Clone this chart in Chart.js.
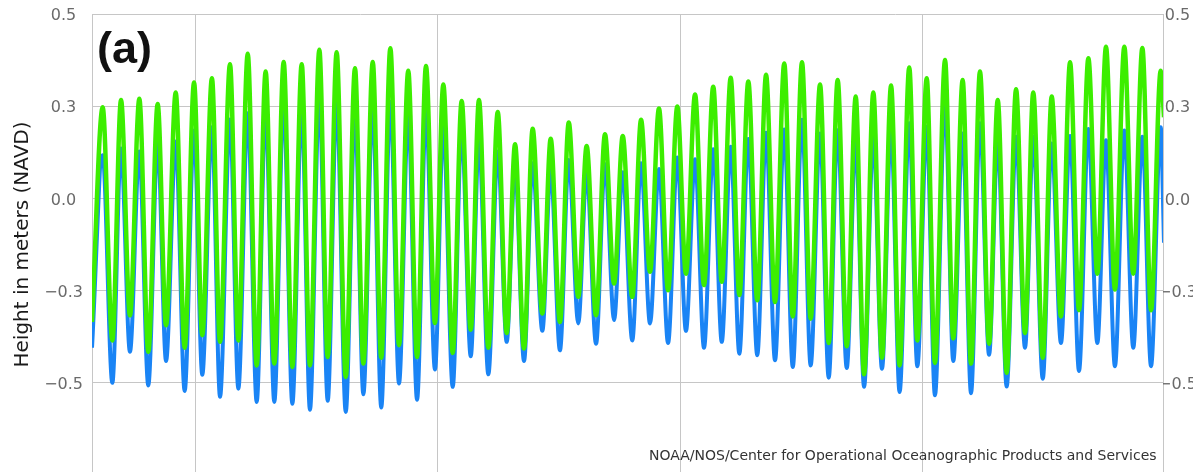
<!DOCTYPE html>
<html>
<head>
<meta charset="utf-8">
<script src="https://cdn.jsdelivr.net/npm/chart.js@4"></script>
<style>
  html, body { margin: 0; padding: 0; background: #fff; overflow: hidden; }
  .wrap { position: relative; width: 1193px; height: 476px; }
  .panel { position: absolute; left: 97px; top: 25px; font: bold 45px 'Liberation Sans', Arial, sans-serif; line-height: 1; color: #111; }
  .credit { position: absolute; left: 649px; top: 448px; font: 14px 'DejaVu Sans', sans-serif; line-height: 1; color: #333; white-space: nowrap; }
</style>
</head>
<body>
<div class="wrap">
  <canvas id="tideChart"></canvas>
  <div class="panel">(a)</div>
  <div class="credit">NOAA/NOS/Center for Operational Oceanographic Products and Services</div>
</div>
<script>
// hours from start of record; peaks and troughs
const hours = [
  0, 7.4, 14.1, 20.1, 26.3, 32.8, 39.0, 45.5, 51.3, 58.0, 64.2, 70.7, 76.4, 83.1, 88.7, 95.6,
  101.4, 107.9, 114.1, 120.3, 126.3, 132.8, 138.8, 145.3, 151.0, 157.5, 163.3, 169.5, 175.8, 182.2,
  188.0, 194.5, 200.4, 206.7, 212.7, 219.1, 225.2, 231.4, 237.6, 243.4, 249.9, 256.1, 262.4, 268.1,
  274.6, 281.1, 287.3, 293.1, 299.3, 305.3, 312.0, 317.8, 324.2, 330.3, 336.9, 342.7, 349.2, 355.4,
  361.7, 367.7, 374.3, 380.4, 386.6, 392.8, 399.1, 405.5, 411.5, 417.8, 424.0, 430.4, 436.3, 442.5,
  448.5, 454.7, 460.9, 467.0, 473.2, 479.6, 485.5, 491.9, 497.9, 504.4, 510.4, 516.6, 522.9, 529.1,
  534.9, 541.3, 547.3, 553.6, 559.5, 566.2, 571.8, 578.3, 584.0, 591.0, 596.7, 603.2, 609.0, 615.2,
  621.5, 627.5, 633.7, 640.2, 646.4, 652.1, 658.7, 664.9, 671.3, 677.6, 683.8, 690.3, 696.5, 702.5,
  708.7, 715.2, 721.4, 727.7, 733.7, 740.4, 742.7
];

const predicted = [
  -0.335, 0.247, -0.385, 0.267, -0.317, 0.270, -0.416, 0.256, -0.344, 0.287, -0.405, 0.314, -0.371, 0.326, -0.389, 0.364,
  -0.385, 0.392, -0.453, 0.344, -0.448, 0.370, -0.457, 0.364, -0.453, 0.403, -0.430, 0.396, -0.484, 0.353,
  -0.448, 0.370, -0.432, 0.407, -0.398, 0.346, -0.430, 0.359, -0.338, 0.309, -0.419, 0.264, -0.356, 0.267,
  -0.405, 0.234, -0.365, 0.147, -0.407, 0.189, -0.312, 0.162, -0.335, 0.206, -0.267, 0.142, -0.317, 0.174,
  -0.231, 0.169, -0.267, 0.213, -0.199, 0.244, -0.249, 0.249, -0.204, 0.282, -0.235, 0.303, -0.226, 0.327,
  -0.262, 0.317, -0.276, 0.335, -0.281, 0.366, -0.320, 0.369, -0.326, 0.309, -0.392, 0.321, -0.401, 0.276,
  -0.477, 0.287, -0.432, 0.306, -0.453, 0.355, -0.385, 0.326, -0.446, 0.375, -0.380, 0.321, -0.448, 0.344,
  -0.394, 0.267, -0.473, 0.296, -0.365, 0.287, -0.432, 0.276, -0.320, 0.369, -0.303, 0.380, -0.204, 0.411,
  -0.247, 0.411, -0.204, 0.408, -0.303, 0.346, 0.22
];

const observed = [
  -0.405, 0.117, -0.500, 0.135, -0.416, 0.127, -0.507, 0.151, -0.441, 0.154, -0.522, 0.184, -0.478, 0.193, -0.538, 0.214,
  -0.516, 0.231, -0.552, 0.240, -0.552, 0.262, -0.557, 0.245, -0.573, 0.276, -0.549, 0.262, -0.579, 0.232,
  -0.531, 0.249, -0.567, 0.262, -0.502, 0.226, -0.546, 0.235, -0.464, 0.196, -0.511, 0.185, -0.428, 0.158,
  -0.477, 0.127, -0.389, 0.086, -0.441, 0.095, -0.359, 0.077, -0.412, 0.104, -0.339, 0.072, -0.394, 0.093,
  -0.330, 0.071, -0.385, 0.095, -0.339, 0.080, -0.392, 0.111, -0.359, 0.106, -0.405, 0.133, -0.389, 0.140,
  -0.421, 0.161, -0.425, 0.178, -0.439, 0.187, -0.457, 0.213, -0.453, 0.176, -0.486, 0.185, -0.460, 0.158,
  -0.511, 0.167, -0.462, 0.185, -0.525, 0.204, -0.455, 0.194, -0.534, 0.262, -0.441, 0.176, -0.528, 0.204,
  -0.424, 0.158, -0.510, 0.167, -0.405, 0.167, -0.489, 0.149, -0.392, 0.169, -0.468, 0.188, -0.392, 0.158,
  -0.455, 0.184, -0.405, 0.167, -0.455, 0.193, -0.12
];

const weekLines = [71.5, 239.5, 407.5, 575.5];
const tickValues = [0.5, 0.25, 0, -0.25, -0.5];
const tickLabels = ['0.5', '0.3', '0.0', '\u22120.3', '\u22120.5'];

const gridColor = '#c6c6c6';
const tickFont = { family: "'DejaVu Sans', sans-serif", size: 16 };
const yTicks = {
  font: tickFont, color: '#6a6a6a', crossAlign: 'center', labelOffset: 2,
  callback: v => tickLabels[tickValues.indexOf(v)]
};

// fixed box sizes so the plot area sits where it does in the original
function sizeAxis(width) {
  return ax => { ax.width = width; ax.paddingTop = 0; ax.paddingBottom = 0; };
}

new Chart(document.getElementById('tideChart'), {
  type: 'line',
  data: {
    datasets: [
      { label: 'Predicted', data: hours.map((h, i) => ({ x: h, y: predicted[i] })),
        borderColor: '#3cee00', borderWidth: 4.5, pointRadius: 0, cubicInterpolationMode: 'monotone' },
      { label: 'Observed', data: hours.map((h, i) => ({ x: h, y: observed[i] })),
        borderColor: '#1a84f5', borderWidth: 4, pointRadius: 0, cubicInterpolationMode: 'monotone' }
    ]
  },
  options: {
    responsive: true, maintainAspectRatio: false, animation: false,
    layout: { padding: { top: 14, bottom: 1, left: 0, right: 0 } },
    plugins: { legend: { display: false }, tooltip: { enabled: false } },
    scales: {
      x: {
        type: 'linear', min: 0, max: 742,
        afterBuildTicks: ax => { ax.ticks = weekLines.map(v => ({ value: v })); },
        afterFit: ax => { ax.height = 0; ax.paddingLeft = 0; ax.paddingRight = 0; },
        ticks: { display: false },
        grid: { color: gridColor, drawTicks: false },
        border: { display: false }
      },
      y: {
        position: 'left', min: -0.75, max: 0.5,
        afterBuildTicks: ax => { ax.ticks = tickValues.map(v => ({ value: v })); },
        afterFit: sizeAxis(92),
        ticks: { ...yTicks, padding: 9 },
        grid: { color: gridColor, drawTicks: false },
        border: { display: true, color: gridColor },
        title: { display: true, text: 'Height in meters (NAVD)', color: '#1a1a1a',
          font: { family: "'DejaVu Sans', sans-serif", size: 20 }, padding: { top: 11, bottom: 0 } }
      },
      y2: {
        position: 'right', min: -0.75, max: 0.5,
        afterBuildTicks: ax => { ax.ticks = tickValues.map(v => ({ value: v })); },
        afterFit: sizeAxis(30),
        ticks: { ...yTicks, padding: -5 },
        grid: { drawOnChartArea: false, drawTicks: false },
        border: { display: true, color: gridColor }
      }
    }
  }
});
</script>
</body>
</html>
